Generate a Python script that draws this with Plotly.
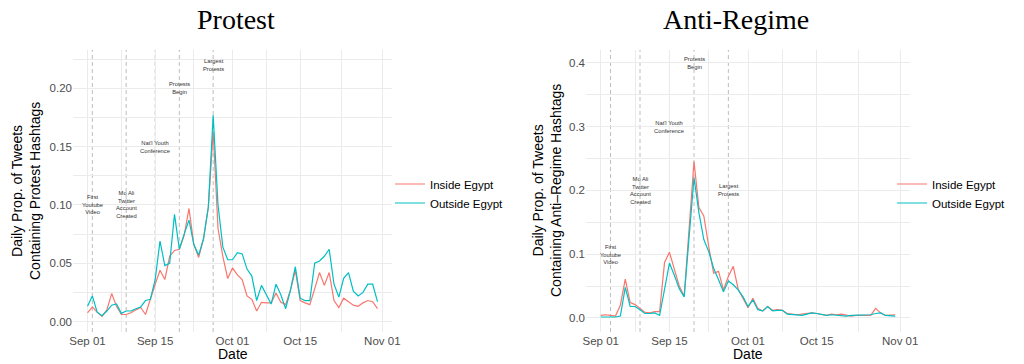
import pandas as pd
import plotly.graph_objects as go

# ---------------- data ----------------
dates = pd.date_range("2019-09-01", "2019-10-31", freq="D")

protest_inside = [0.0075, 0.0125, 0.008, 0.0045, 0.010, 0.024, 0.013, 0.006, 0.006, 0.0075,
                  0.010, 0.012, 0.006, 0.020, 0.032, 0.044, 0.036, 0.056, 0.061, 0.062,
                  0.074, 0.097, 0.066, 0.055, 0.071, 0.098, 0.163, 0.080, 0.056, 0.037,
                  0.046, 0.040, 0.036, 0.022, 0.019, 0.009, 0.0165, 0.016, 0.016, 0.0245,
                  0.0165, 0.0145, 0.027, 0.044, 0.018, 0.016, 0.0145, 0.028, 0.042, 0.031,
                  0.042, 0.018, 0.012, 0.020, 0.017, 0.014, 0.013, 0.016, 0.018, 0.017,
                  0.011]
protest_outside = [0.013, 0.022, 0.008, 0.005, 0.009, 0.014, 0.015, 0.007, 0.009, 0.009,
                   0.011, 0.0125, 0.018, 0.019, 0.036, 0.069, 0.048, 0.050, 0.092, 0.062,
                   0.075, 0.087, 0.066, 0.057, 0.071, 0.098, 0.177, 0.100, 0.064, 0.053,
                   0.053, 0.059, 0.058, 0.045, 0.039, 0.018, 0.031, 0.023, 0.015, 0.032,
                   0.023, 0.011, 0.027, 0.047, 0.020, 0.018, 0.018, 0.050, 0.052, 0.056,
                   0.062, 0.032, 0.021, 0.037, 0.042, 0.026, 0.022, 0.025, 0.032, 0.032,
                   0.017]
regime_inside = [0.004, 0.005, 0.004, 0.003, 0.020, 0.061, 0.024, 0.021, 0.015, 0.009,
                 0.008, 0.010, 0.010, 0.087, 0.103, 0.078, 0.050, 0.034, 0.145, 0.245,
                 0.173, 0.160, 0.112, 0.070, 0.073, 0.044, 0.065, 0.081, 0.045, 0.031,
                 0.016, 0.031, 0.015, 0.011, 0.018, 0.012, 0.013, 0.012, 0.007, 0.006,
                 0.005, 0.006, 0.007, 0.008, 0.007, 0.005, 0.004, 0.006, 0.005, 0.006,
                 0.004, 0.003, 0.004, 0.004, 0.003, 0.004, 0.015, 0.008, 0.004, 0.004,
                 0.005]
regime_outside = [0.0015, 0.0015, 0.002, 0.0015, 0.003, 0.048, 0.018, 0.018, 0.013, 0.007,
                  0.007, 0.008, 0.004, 0.045, 0.086, 0.067, 0.046, 0.033, 0.130, 0.220,
                  0.165, 0.123, 0.104, 0.078, 0.060, 0.041, 0.058, 0.052, 0.044, 0.033,
                  0.018, 0.028, 0.013, 0.011, 0.018, 0.011, 0.012, 0.012, 0.006, 0.005,
                  0.004, 0.004, 0.006, 0.008, 0.007, 0.005, 0.004, 0.005, 0.004, 0.004,
                  0.003, 0.004, 0.004, 0.004, 0.004, 0.005, 0.007, 0.008, 0.004, 0.003,
                  0.003]

series_names = ["Inside Egypt", "Outside Egypt"]
series_colors = ["#F8766D", "#00BFC4"]

event_labels = ["First<br>Youtube<br>Video", "Mo Ali<br>Twitter<br>Account<br>Created",
                "Nat'l Youth<br>Conference", "Protests<br>Begin", "Largest<br>Protests"]
protest_event_dates = ["2019-09-02", "2019-09-09", "2019-09-15", "2019-09-20", "2019-09-27"]
protest_event_y = [0.10, 0.10, 0.15, 0.20, 0.22]
regime_event_dates = ["2019-09-03", "2019-09-09", "2019-09-15", "2019-09-20", "2019-09-27"]
regime_event_y = [0.10, 0.20, 0.30, 0.40, 0.20]

major_dates = ["2019-09-01", "2019-09-15", "2019-10-01", "2019-10-15", "2019-11-01"]
major_labels = ["Sep 01", "Sep 15", "Oct 01", "Oct 15", "Nov 01"]
minor_dates = ["2019-09-08", "2019-09-23", "2019-10-08", "2019-10-23 12:00"]

protest_yticks = [0.00, 0.05, 0.10, 0.15, 0.20]
protest_ytext = ["0.00", "0.05", "0.10", "0.15", "0.20"]
protest_yrange = [-0.009, 0.233]
regime_yticks = [0.0, 0.1, 0.2, 0.3, 0.4]
regime_ytext = ["0.0", "0.1", "0.2", "0.3", "0.4"]
regime_yrange = [-0.022, 0.42]

# ---------------- figure ----------------
W, H = 1024, 364
SANS = "Liberation Sans, Arial, sans-serif"
SERIF = "Liberation Serif, Times New Roman, serif"
GRID = "#EBEBEB"

fig = go.Figure()

panels = [
    ("x", "y", "legend", [protest_inside, protest_outside]),
    ("x2", "y2", "legend2", [regime_inside, regime_outside]),
]
for xa, ya, lg, vals in panels:
    for name, col, v in zip(series_names, series_colors, vals):
        fig.add_trace(go.Scatter(x=dates, y=v, mode="lines", name=name,
                                 line=dict(color=col, width=1.2),
                                 xaxis=xa, yaxis=ya, legend=lg, showlegend=True))

# event lines and labels
for xref, yref, edates, eys, yr in [("x", "y", protest_event_dates, protest_event_y, protest_yrange),
                                    ("x2", "y2", regime_event_dates, regime_event_y, regime_yrange)]:
    for lab, d, yv in zip(event_labels, edates, eys):
        fig.add_shape(type="line", xref=xref, yref=yref, x0=d, x1=d, y0=yr[0], y1=yr[1],
                      line=dict(color="#BDBDBD", width=1, dash="4px,3px"), layer="below")
        fig.add_annotation(x=d, y=yv, xref=xref, yref=yref, text=lab, showarrow=False,
                           font=dict(family=SANS, size=5.8, color="#333333"),
                           xanchor="center", yanchor="middle", align="center")


def px_x(p):
    return p / W


def px_y(p):
    return 1 - p / H


ydom = [px_y(332), px_y(50)]
tickfont = dict(family=SANS, size=11.5, color="#4D4D4D")
xaxis_common = dict(type="date", range=["2019-08-29", "2019-11-03"], tickmode="array",
                    tickvals=major_dates, ticktext=major_labels, showgrid=True,
                    gridcolor=GRID, gridwidth=1.1, zeroline=False, showline=False, ticks="",
                    tickfont=tickfont,
                    minor=dict(tickmode="array", tickvals=minor_dates, showgrid=True,
                               gridcolor=GRID, gridwidth=0.6),
                    automargin=False)

fig.update_layout(
    width=W, height=H,
    margin=dict(l=0, r=0, t=0, b=0),
    paper_bgcolor="white", plot_bgcolor="white",
    font=dict(family=SANS, color="black"),
    xaxis=dict(xaxis_common, domain=[px_x(73), px_x(392)], anchor="y"),
    xaxis2=dict(xaxis_common, domain=[px_x(586), px_x(910)], anchor="y2"),
    yaxis=dict(domain=ydom, anchor="x", range=protest_yrange, tickmode="array",
               tickvals=protest_yticks, ticktext=protest_ytext, showgrid=True,
               gridcolor=GRID, gridwidth=1.1, zeroline=False, showline=False, ticks="",
               tickfont=tickfont,
               minor=dict(tick0=0.025, dtick=0.05, showgrid=True, gridcolor=GRID, gridwidth=0.6),
               automargin=False),
    yaxis2=dict(domain=ydom, anchor="x2", range=regime_yrange, tickmode="array",
                tickvals=regime_yticks, ticktext=regime_ytext, showgrid=True,
                gridcolor=GRID, gridwidth=1.1, zeroline=False, showline=False, ticks="",
                tickfont=tickfont,
                minor=dict(tick0=0.05, dtick=0.1, showgrid=True, gridcolor=GRID, gridwidth=0.6),
                automargin=False),
    legend=dict(x=px_x(390), y=px_y(193.5), xanchor="left", yanchor="middle",
                font=dict(family=SANS, size=11.5, color="black"), bgcolor="rgba(0,0,0,0)"),
    legend2=dict(x=px_x(892), y=px_y(193.5), xanchor="left", yanchor="middle",
                 font=dict(family=SANS, size=11.5, color="black"), bgcolor="rgba(0,0,0,0)"),
)

# titles and axis titles
fig.add_annotation(x=px_x(236), y=px_y(19), xref="paper", yref="paper", text="Protest",
                   showarrow=False, font=dict(family=SERIF, size=28, color="black"),
                   xanchor="center", yanchor="middle")
fig.add_annotation(x=px_x(736), y=px_y(19), xref="paper", yref="paper", text="Anti-Regime",
                   showarrow=False, font=dict(family=SERIF, size=28, color="black"),
                   xanchor="center", yanchor="middle")
for cx in [232.5, 748]:
    fig.add_annotation(x=px_x(cx), y=px_y(354), xref="paper", yref="paper", text="Date",
                       showarrow=False, font=dict(family=SANS, size=14, color="black"),
                       xanchor="center", yanchor="middle")
fig.add_annotation(x=px_x(26), y=px_y(191), xref="paper", yref="paper",
                   text="Daily Prop. of Tweets<br>Containing Protest Hashtags",
                   textangle=-90, showarrow=False, font=dict(family=SANS, size=14, color="black"),
                   xanchor="center", yanchor="middle")
fig.add_annotation(x=px_x(547), y=px_y(191), xref="paper", yref="paper",
                   text="Daily Prop. of Tweets<br>Containing Anti\u2013Regime Hashtags",
                   textangle=-90, showarrow=False, font=dict(family=SANS, size=14, color="black"),
                   xanchor="center", yanchor="middle")

fig.write_html("out.html", config={"displayModeBar": False},
               post_script="document.body.style.margin='0px';document.body.style.overflow='hidden';")
